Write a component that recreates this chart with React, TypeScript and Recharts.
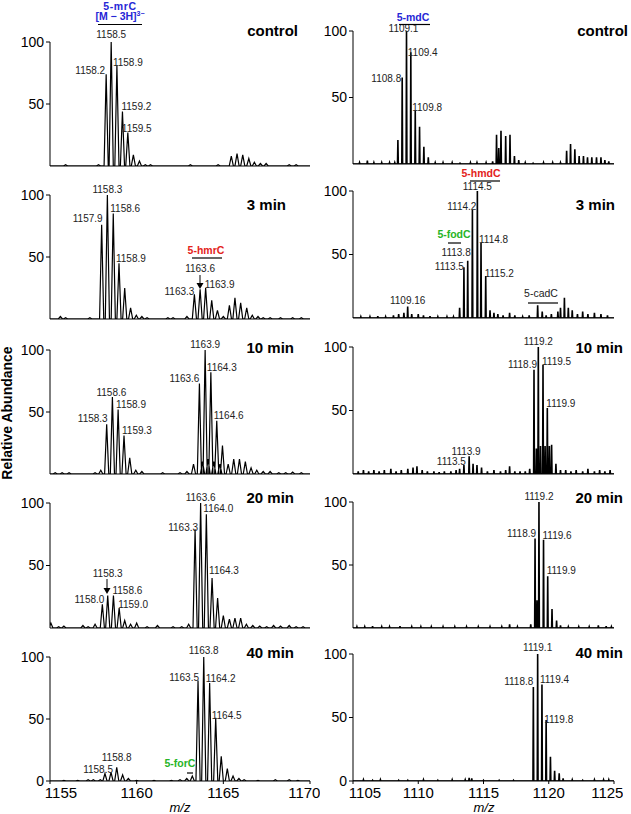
import React from 'react'
import { LineChart, Line, XAxis, YAxis, ReferenceDot } from 'recharts'

type Peak = [number, number]
type Tag = [string, number, number, 'start' | 'middle' | 'end', number, number]

// x axes
const ribTicks = [1155, 1160, 1165, 1170]
const deoxyTicks = [1105, 1110, 1115, 1120, 1125]
const yTicks = [0, 50, 100]

// ---- left column: 5-mrC oligo, peaks as [m/z, relative abundance] ----
const mrcControl: Peak[] = [
  [1157.8, 1], [1158.24, 74], [1158.53, 100], [1158.86, 81], [1159.18, 44], [1159.49, 27],
  [1159.81, 9], [1160.16, 4], [1160.5, 1], [1160.8, 1], [1163.1, 1], [1164.7, 1],
  [1165.46, 8], [1165.79, 10], [1166.12, 9], [1166.47, 6], [1166.79, 3], [1167.14, 2],
  [1167.47, 2], [1168.8, 1], [1169.2, 1], [1155.9, 1],
]
const mrc3min: Peak[] = [
  [1155.6, 2], [1155.9, 1], [1157.3, 1], [1157.98, 76], [1158.31, 100], [1158.65, 85],
  [1158.98, 45], [1159.31, 25], [1159.65, 9], [1159.98, 3], [1160.3, 2], [1160.6, 1],
  [1161.8, 1], [1162.1, 1], [1162.9, 2], [1163.33, 20], [1163.66, 24], [1163.98, 25],
  [1164.33, 15], [1164.66, 7], [1165.0, 2], [1165.35, 11], [1165.67, 17], [1166.0, 13],
  [1166.35, 9], [1166.67, 3], [1167.0, 2], [1167.3, 1], [1167.7, 1], [1168.3, 1],
  [1169.0, 1], [1169.5, 1],
]
const mrc10min: Peak[] = [
  [1155.3, 1], [1155.7, 1], [1156.1, 1], [1157.6, 1], [1157.93, 3], [1158.27, 40],
  [1158.6, 62], [1158.93, 52], [1159.27, 31], [1159.6, 13], [1159.95, 3], [1160.3, 2],
  [1161.5, 1], [1162.5, 1], [1162.9, 2], [1163.28, 8], [1163.62, 73], [1163.8, 10],
  [1163.95, 100], [1164.12, 12], [1164.28, 82], [1164.45, 10], [1164.62, 43], [1164.8, 8],
  [1164.95, 23], [1165.28, 8], [1165.6, 12], [1165.93, 12], [1166.27, 10], [1166.6, 5],
  [1166.93, 3], [1167.3, 2], [1167.7, 2], [1168.2, 1], [1168.6, 1], [1169.0, 1.5], [1169.5, 1],
]
const mrc20min: Peak[] = [
  [1155.05, 4], [1155.5, 1], [1155.8, 1.5], [1156.9, 2], [1157.2, 1], [1157.6, 3],
  [1158.02, 19], [1158.33, 26], [1158.66, 26], [1158.99, 16], [1159.31, 6], [1159.65, 3],
  [1160.0, 4], [1160.6, 1], [1161.2, 2], [1162.1, 1], [1162.6, 1], [1163.0, 3],
  [1163.37, 79], [1163.69, 100], [1164.02, 91], [1164.35, 40], [1164.67, 24], [1165.0, 10],
  [1165.35, 7], [1165.67, 8], [1166.0, 8], [1166.33, 3], [1166.7, 2], [1167.1, 1.5],
  [1167.5, 1], [1167.9, 2], [1168.3, 1.5], [1168.8, 2], [1169.2, 1], [1169.6, 1],
]
const mrc40min: Peak[] = [
  [1155.8, 0.5], [1156.6, 0.5], [1157.2, 1], [1157.5, 1], [1157.9, 1], [1158.17, 6],
  [1158.52, 7], [1158.85, 11], [1159.19, 5], [1159.52, 2], [1160.0, 0.5], [1161.0, 0.5],
  [1162.0, 0.5], [1162.5, 1], [1162.89, 2], [1163.21, 4], [1163.54, 81], [1163.87, 100],
  [1164.21, 79], [1164.56, 51], [1164.88, 20], [1165.23, 10], [1165.56, 4], [1165.9, 2],
  [1166.2, 1], [1167.0, 0.5], [1168.0, 1], [1168.8, 1], [1169.3, 0.5],
]

// ---- right column: 5-mdC oligo ----
const mdcControl: Peak[] = [
  [1105.5, 1], [1106.1, 2.5], [1106.6, 1], [1107.2, 1], [1107.8, 1], [1108.2, 1],
  [1108.44, 18], [1108.77, 65], [1109.1, 100], [1109.43, 84], [1109.77, 40], [1110.1, 28],
  [1110.43, 13], [1110.77, 5], [1111.3, 1], [1111.9, 1], [1112.6, 1], [1113.2, 0.5],
  [1114.0, 1], [1114.5, 1], [1115.2, 1], [1115.7, 2], [1116.0, 22], [1116.17, 12],
  [1116.34, 25], [1116.7, 21], [1117.03, 22], [1117.37, 6], [1117.7, 3], [1118.2, 1],
  [1118.8, 0.5], [1119.6, 1], [1120.3, 1], [1120.9, 1], [1121.37, 10], [1121.67, 15],
  [1122.0, 11], [1122.33, 6], [1122.66, 6], [1122.97, 5], [1123.3, 5], [1123.66, 5],
  [1124.0, 5], [1124.3, 3], [1124.6, 2],
]
const mdc3min: Peak[] = [
  [1105.6, 1], [1106.3, 1], [1106.9, 1.5], [1107.5, 1], [1108.1, 2], [1108.5, 3],
  [1108.9, 4], [1109.19, 9], [1109.5, 3], [1110.0, 3], [1110.4, 2], [1110.9, 1.5],
  [1111.5, 1], [1112.2, 1], [1112.7, 1], [1113.17, 8], [1113.5, 40], [1113.79, 45],
  [1114.15, 85], [1114.53, 100], [1114.81, 59], [1115.17, 33], [1115.5, 6], [1115.8, 4],
  [1116.1, 3], [1116.5, 2], [1117.0, 4], [1117.4, 2], [1118.0, 1], [1118.5, 2],
  [1119.15, 10], [1119.5, 5], [1119.8, 2], [1120.2, 3], [1120.7, 5], [1120.9, 8],
  [1121.2, 16], [1121.5, 8], [1121.8, 6], [1122.2, 3], [1122.6, 5], [1123.0, 3],
  [1123.5, 4], [1124.0, 3], [1124.5, 2],
]
const mdc10min: Peak[] = [
  [1105.4, 2], [1105.8, 3], [1106.2, 2], [1106.6, 3], [1107.0, 2], [1107.4, 3],
  [1107.9, 4], [1108.3, 2], [1108.7, 3], [1109.2, 4], [1109.6, 5], [1109.9, 6],
  [1110.3, 3], [1110.7, 2], [1111.2, 2], [1111.6, 1.5], [1112.0, 2], [1112.5, 2],
  [1112.9, 3], [1113.17, 4], [1113.5, 7], [1113.9, 14], [1114.2, 8], [1114.5, 7],
  [1114.85, 5], [1115.3, 2], [1115.8, 3], [1116.3, 2], [1116.7, 3], [1117.0, 6],
  [1117.4, 2], [1117.8, 2], [1118.2, 2], [1118.54, 4], [1118.87, 82], [1119.05, 20],
  [1119.2, 100], [1119.37, 22], [1119.56, 86], [1119.72, 22], [1119.89, 52], [1120.05, 22],
  [1120.22, 23], [1120.55, 8], [1120.9, 3], [1121.3, 3], [1121.7, 2], [1122.1, 3],
  [1122.6, 2], [1123.0, 4], [1123.5, 2], [1123.9, 3], [1124.3, 2], [1124.7, 3],
]
const mdc20min: Peak[] = [
  [1105.3, 1], [1105.9, 1], [1106.5, 1.5], [1107.2, 1], [1107.8, 1], [1108.6, 1.5],
  [1109.5, 1], [1110.2, 1], [1111.0, 1], [1111.9, 1], [1112.8, 1], [1113.7, 1],
  [1114.6, 1], [1115.5, 1], [1116.4, 1], [1117.0, 3], [1117.6, 1], [1118.62, 3],
  [1118.95, 71], [1119.1, 22], [1119.25, 100], [1119.6, 70], [1119.92, 41], [1120.25, 15],
  [1120.6, 6], [1120.9, 2], [1121.5, 1], [1122.3, 1], [1123.1, 1], [1123.8, 2],
  [1124.4, 1.5], [1124.8, 1],
]
const mdc40min: Peak[] = [
  [1105.8, 1], [1106.5, 0.5], [1107.1, 1], [1108.5, 0.5], [1109.2, 0.5], [1110.4, 1],
  [1111.5, 0.5], [1112.6, 1], [1113.6, 1], [1113.9, 2.5], [1114.1, 2], [1115.0, 0.5],
  [1116.2, 0.5], [1117.3, 0.5], [1118.82, 74], [1119.15, 100], [1119.48, 76], [1119.8, 48],
  [1120.13, 19], [1120.45, 8], [1120.8, 6], [1121.1, 2], [1121.8, 1], [1122.6, 0.5],
  [1123.5, 1], [1124.2, 1], [1124.6, 1],
]

// ---- peak labels: text, m/z, abundance, anchor, dx, dy ----
const tagsL1: Tag[] = [
  ['1158.5', 1158.53, 100, 'middle', 0, -4], ['1158.2', 1158.24, 74, 'end', -1, 0],
  ['1158.9', 1158.86, 81, 'start', -4, 0], ['1159.2', 1159.18, 44, 'start', -1, -1],
  ['1159.5', 1159.49, 27, 'start', -6, -1],
]
const tagsL2: Tag[] = [
  ['1158.3', 1158.31, 100, 'middle', 0, -2], ['1157.9', 1157.98, 76, 'end', 1, -3],
  ['1158.6', 1158.65, 85, 'start', -3, -2], ['1158.9', 1158.98, 45, 'start', -3, -1],
  ['1163.3', 1163.33, 20, 'end', 0, 1], ['1163.6', 1163.66, 24, 'middle', 0, -17],
  ['1163.9', 1163.98, 25, 'start', -1, 0],
]
const tagsL3: Tag[] = [
  ['1163.9', 1163.95, 100, 'middle', 0, -2], ['1164.3', 1164.28, 82, 'start', -4, -1],
  ['1163.6', 1163.62, 73, 'end', 0, -1], ['1164.6', 1164.62, 43, 'start', -3, -2],
  ['1158.6', 1158.6, 62, 'middle', -1, -1], ['1158.9', 1158.93, 52, 'start', -2, -2],
  ['1158.3', 1158.27, 40, 'end', 1, -2], ['1159.3', 1159.27, 31, 'start', -2, -2],
]
const tagsL4: Tag[] = [
  ['1163.6', 1163.69, 100, 'middle', 0, -2], ['1164.0', 1164.02, 91, 'start', -3, -2],
  ['1163.3', 1163.37, 79, 'end', 3, 2], ['1164.3', 1164.35, 40, 'start', -3, -4],
  ['1158.3', 1158.33, 26, 'middle', 0, -19], ['1158.6', 1158.66, 26, 'start', -1, -2],
  ['1158.0', 1158.02, 19, 'end', 2, -1], ['1159.0', 1158.99, 16, 'start', -1, 0],
]
const tagsL5: Tag[] = [
  ['1163.8', 1163.87, 100, 'middle', 0, -3], ['1163.5', 1163.54, 81, 'end', 1, 0],
  ['1164.2', 1164.21, 79, 'start', -4, -1], ['1164.5', 1164.56, 51, 'start', -4, 1],
  ['1158.8', 1158.85, 11, 'middle', 0, -6], ['1158.5', 1158.52, 7, 'end', 2, 1],
]
const tagsR1: Tag[] = [
  ['1109.1', 1109.1, 100, 'middle', -3, 1], ['1109.4', 1109.43, 84, 'start', -3, 4],
  ['1108.8', 1108.77, 65, 'end', -1, 4], ['1109.8', 1109.77, 40, 'start', -3, 0],
]
const tagsR2: Tag[] = [
  ['1114.5', 1114.53, 100, 'middle', 0, -1], ['1114.2', 1114.15, 85, 'end', 4, 0],
  ['1113.8', 1113.79, 45, 'end', 3, -5], ['1113.5', 1113.5, 40, 'end', 0, 3],
  ['1114.8', 1114.81, 59, 'start', -2, 0], ['1115.2', 1115.17, 33, 'start', -1, 1],
  ['1109.16', 1109.19, 9, 'middle', 0, -3],
]
const tagsR3: Tag[] = [
  ['1119.2', 1119.2, 100, 'middle', 0, -2], ['1118.9', 1118.87, 82, 'end', 3, -2],
  ['1119.5', 1119.56, 86, 'start', -1, 0], ['1119.9', 1119.89, 52, 'start', -1, -1],
  ['1113.9', 1113.9, 14, 'middle', -3, -1], ['1113.5', 1113.5, 7, 'end', 2, 0],
]
const tagsR4: Tag[] = [
  ['1119.2', 1119.25, 100, 'middle', 0, -2], ['1118.9', 1118.95, 71, 'end', 1, -2],
  ['1119.6', 1119.6, 70, 'start', -1, -1], ['1119.9', 1119.92, 41, 'start', -1, -2],
]
const tagsR5: Tag[] = [
  ['1119.1', 1119.15, 100, 'middle', 0, -3], ['1118.8', 1118.82, 74, 'end', 0, -2],
  ['1119.4', 1119.48, 76, 'start', -2, -1], ['1119.8', 1119.8, 48, 'start', -2, 3],
]

const FONT = '"Liberation Sans", Arial, Helvetica, sans-serif'
const BLUE = '#2626d6'
const RED = '#e3231b'
const GREEN = '#27b427'

// peak list -> profile trace (narrow triangles on a zero baseline)
function toTrace(peaks: Peak[], lo: number, hi: number, hw: number) {
  const pts = [{ x: lo, y: 0 }]
  ;[...peaks].sort((a, b) => a[0] - b[0]).forEach(([m, h]) => {
    pts.push({ x: m - hw, y: 0 }, { x: m, y: h }, { x: m + hw, y: 0 })
  })
  pts.push({ x: hi, y: 0 })
  return pts
}

type PanelDef = { col: 0 | 1; top: number; bottom: number; peaks: Peak[]; tags: Tag[]; last?: boolean }

const panels: PanelDef[] = [
  { col: 0, top: 42, bottom: 166, peaks: mrcControl, tags: tagsL1 },
  { col: 0, top: 195, bottom: 319, peaks: mrc3min, tags: tagsL2 },
  { col: 0, top: 350, bottom: 474, peaks: mrc10min, tags: tagsL3 },
  { col: 0, top: 503, bottom: 628, peaks: mrc20min, tags: tagsL4 },
  { col: 0, top: 657, bottom: 781, peaks: mrc40min, tags: tagsL5, last: true },
  { col: 1, top: 31, bottom: 164, peaks: mdcControl, tags: tagsR1 },
  { col: 1, top: 191, bottom: 318, peaks: mdc3min, tags: tagsR2 },
  { col: 1, top: 347, bottom: 474, peaks: mdc10min, tags: tagsR3 },
  { col: 1, top: 502, bottom: 628, peaks: mdc20min, tags: tagsR4 },
  { col: 1, top: 654, bottom: 781, peaks: mdc40min, tags: tagsR5, last: true },
]

// bottom tick labels; the first one of each axis is nudged clear of the "0"
function XTick(tp: any) {
  const v = tp.payload.value
  const nudge = v === 1105 ? 12 : v === 1155 ? 11 : 0
  return (
    <text x={tp.x + nudge} y={tp.y} dy={11} textAnchor="middle" fontSize={15} fill="#000" fontFamily={FONT}>
      {v}
    </text>
  )
}

function Panel({ p }: { p: PanelDef }) {
  const mt = 40
  const xh = p.last ? 26 : 4
  const lo = p.col === 0 ? 1155 : 1105
  const hi = p.col === 0 ? 1170 : 1125
  const trace = toTrace(p.peaks, lo, hi, p.col === 0 ? 0.12 : 0.03)
  const height = mt + (p.bottom - p.top) + xh
  return (
    <div style={{ position: 'absolute', left: p.col === 0 ? 0 : 303, top: p.top - mt }}>
      <LineChart
        width={320}
        height={height}
        data={trace}
        margin={{ top: mt, right: p.col === 0 ? 10 : 9, left: 0, bottom: 0 }}
      >
        <XAxis
          type="number"
          dataKey="x"
          domain={[lo, hi]}
          ticks={p.col === 0 ? ribTicks : deoxyTicks}
          allowDataOverflow
          height={xh}
          tick={p.last ? XTick : false}
          tickSize={3}
          tickMargin={3}
          axisLine={{ stroke: '#000' }}
          tickLine={{ stroke: '#000' }}
        />
        <YAxis
          type="number"
          domain={[0, 100]}
          ticks={yTicks}
          allowDataOverflow
          width={50}
          tickSize={4}
          tickMargin={2}
          tick={{ fontSize: 14, fill: '#000' }}
          axisLine={{ stroke: '#000' }}
          tickLine={{ stroke: '#000' }}
        />
        <Line
          dataKey="y"
          type="linear"
          stroke="#000"
          strokeWidth={p.col === 0 ? 1.2 : 1.6}
          dot={false}
          activeDot={false}
          isAnimationActive={false}
        />
        {p.tags.map(([text, m, h, anchor, dx, dy], i) => (
          <ReferenceDot
            key={i}
            x={m}
            y={h}
            r={1}
            fill="none"
            stroke="none"
            label={(lp: any) => {
              const vb = lp.viewBox || {}
              const cx = vb.x + (vb.width || 0) / 2
              const cy = vb.y + (vb.height || 0) / 2
              return (
                <text x={cx + dx} y={cy + dy} textAnchor={anchor} fontSize={10} fill="#222" fontFamily={FONT}>
                  {text}
                </text>
              )
            }}
          />
        ))}
      </LineChart>
    </div>
  )
}

function Overlay() {
  const title = { fontSize: 15, fontWeight: 700, textAnchor: 'end' as const, fill: '#000' }
  const tag = { fontSize: 10.5, fontWeight: 700, textAnchor: 'middle' as const }
  return (
    <svg width={631} height={814} style={{ position: 'absolute', left: 0, top: 0, pointerEvents: 'none' }} fontFamily={FONT}>
      <text x={298} y={36} {...title}>control</text>
      <text x={286} y={210} {...title}>3 min</text>
      <text x={294} y={353} {...title}>10 min</text>
      <text x={294} y={503} {...title}>20 min</text>
      <text x={294} y={658} {...title}>40 min</text>
      <text x={628} y={36} {...title}>control</text>
      <text x={615} y={210} {...title}>3 min</text>
      <text x={623} y={353} {...title}>10 min</text>
      <text x={623} y={503} {...title}>20 min</text>
      <text x={623} y={658} {...title}>40 min</text>

      <text x={120} y={9.5} {...tag} fill={BLUE} letterSpacing={0.6}>5-mrC</text>
      <text x={120} y={20} {...tag} fill={BLUE}>
        [M − 3H]<tspan fontSize={7} dy={-4}>3−</tspan>
      </text>
      <line x1={98} y1={24.5} x2={142} y2={24.5} stroke="#000" strokeWidth={1.2} />
      <text x={413} y={21} {...tag} fill={BLUE}>5-mdC</text>
      <line x1={399} y1={24.5} x2={430} y2={24.5} stroke="#000" strokeWidth={1.2} />
      <text x={206} y={254} {...tag} fill={RED}>5-hmrC</text>
      <line x1={192} y1={258} x2={222} y2={258} stroke="#000" strokeWidth={1.2} />
      <text x={481} y={177} {...tag} fill={RED}>5-hmdC</text>
      <line x1={470} y1={181} x2={500} y2={181} stroke="#000" strokeWidth={1.2} />
      <text x={454} y={238} {...tag} fill={GREEN}>5-fodC</text>
      <line x1={448} y1={243} x2={461} y2={243} stroke="#000" strokeWidth={1.2} />
      <text x={541} y={297} fontSize={10.5} textAnchor="middle" fill="#222">5-cadC</text>
      <line x1={528} y1={303} x2={558} y2={303} stroke="#000" strokeWidth={1.2} />
      <text x={180} y={767} {...tag} fill={GREEN}>5-forC</text>
      <line x1={187} y1={773} x2={193} y2={773} stroke="#000" strokeWidth={1.2} />

      <line x1={200} y1={275} x2={200} y2={284} stroke="#000" strokeWidth={1} />
      <polygon points="196.5,283 203.5,283 200,289" fill="#000" />
      <line x1={107} y1={579} x2={107} y2={589} stroke="#000" strokeWidth={1} />
      <polygon points="103.5,588 110.5,588 107,594" fill="#000" />

      <text transform="rotate(-90)" x={-413} y={12} fontSize={14} fontWeight={700} textAnchor="middle" fill="#000">
        Relative Abundance
      </text>
      <text x={180} y={812} fontSize={13} fontStyle="italic" textAnchor="middle" fill="#000">m/z</text>
      <text x={484} y={812} fontSize={13} fontStyle="italic" textAnchor="middle" fill="#000">m/z</text>
    </svg>
  )
}

export default function App() {
  return (
    <div
      style={{
        position: 'absolute',
        left: 0,
        top: 0,
        width: 631,
        height: 814,
        background: '#fff',
        fontFamily: FONT,
        overflow: 'hidden',
      }}
    >
      {panels.map((p, i) => (
        <Panel key={i} p={p} />
      ))}
      <Overlay />
    </div>
  )
}
